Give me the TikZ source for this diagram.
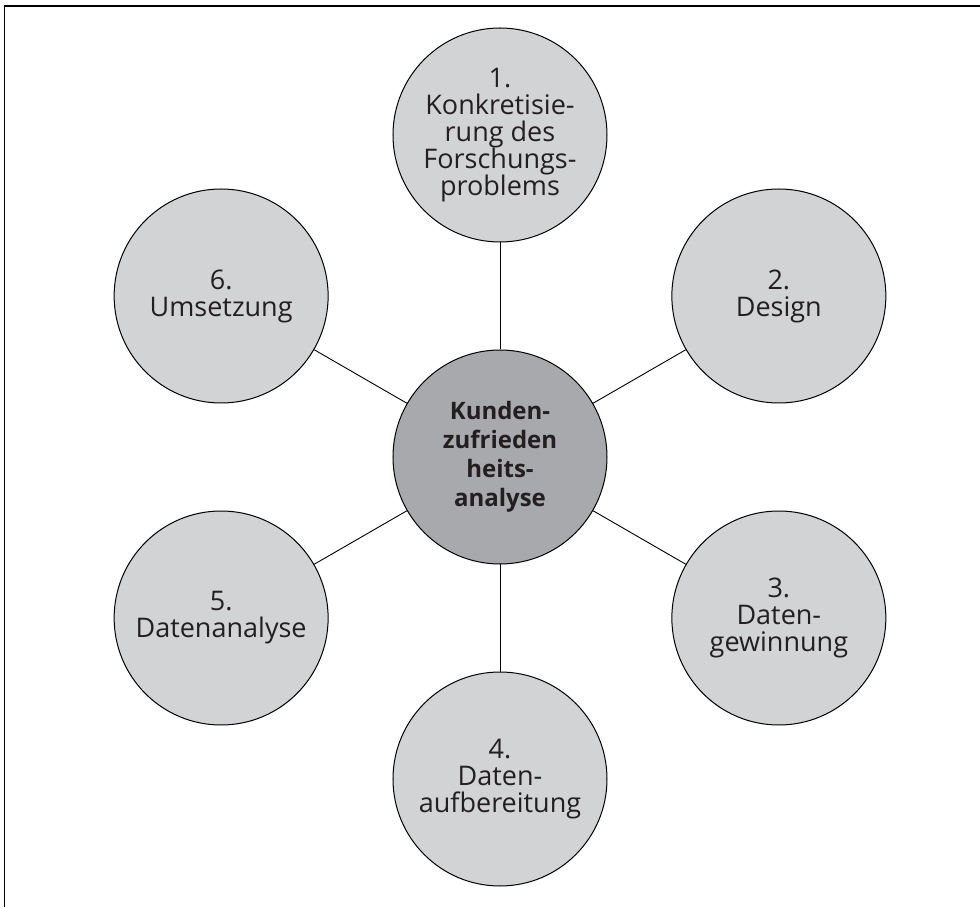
\documentclass[tikz,border=0pt]{standalone}
\usepackage{fontspec}
\setmainfont{Open Sans}
\usepackage{tikz}
\definecolor{stepgray}{RGB}{210,211,213}
\definecolor{hubgray}{RGB}{168,169,172}
\definecolor{inkgray}{RGB}{35,31,32}

\begin{document}
\begin{tikzpicture}[x=1pt,y=1pt,
  stepnode/.style={draw,circle,fill=stepgray,minimum size=214pt,inner sep=0pt,
    align=center,text=inkgray,line width=1pt,font=\fontsize{27}{27}\selectfont},
  hubnode/.style={stepnode,fill=hubgray,font=\fontsize{24}{29}\selectfont\bfseries}]
  \useasboundingbox (-500,-450) rectangle (480,457);
  % open frame, top and left side only
  \draw[line width=1.6pt] (-495.5,-450) -- (-495.5,451) -- (480,451);
  \node[hubnode] (hub) at (0,0) {Kunden-\\zufrieden\\heits-\\analyse};
  % the six steps round the hub
  \foreach \n/\a/\txt in {1/90/{1.\\Konkretisie-\\rung des\\Forschungs-\\problems},
      2/30/{2.\\Design}, 3/-30/{3.\\Daten-\\gewinnung}, 4/-90/{4.\\Daten-\\aufbereitung},
      5/-150/{5.\\Datenanalyse}, 6/150/{6.\\Umsetzung}}{
    \node[stepnode] (s\n) at (\a:322) {\txt};
    \draw[line width=.9pt] (hub) -- (s\n);
  }
\end{tikzpicture}
\end{document}
